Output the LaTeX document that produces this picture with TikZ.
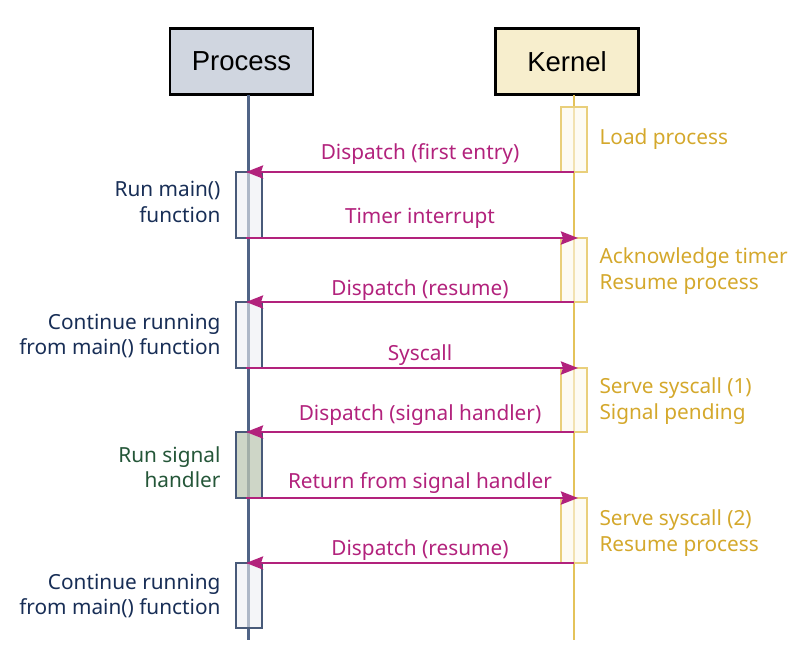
\documentclass[tikz,border=0pt]{standalone}
\usepackage{fontspec}
\setmainfont{Noto Sans}
\newfontfamily\headfont{Liberation Sans}
\usetikzlibrary{arrows.meta}
\definecolor{msg}{RGB}{178,34,124}
\definecolor{kern}{RGB}{212,168,44}
\definecolor{navy}{RGB}{24,46,86}
\definecolor{sigg}{RGB}{36,86,56}
\definecolor{pfill}{RGB}{208,214,224}
\definecolor{kfill}{RGB}{247,238,205}
\definecolor{pline}{RGB}{80,100,135}
\definecolor{kline}{RGB}{228,195,90}
\begin{document}
\begin{tikzpicture}[x=1pt,y=-1pt,
  header/.style={draw=black,line width=2.8pt,minimum width=143pt,minimum height=66pt,inner sep=0pt,font=\headfont\fontsize{27.5}{30}\selectfont},
  plife/.style={draw=pline,line width=3pt},
  klife/.style={draw=kline,line width=2.4pt},
  pact/.style={draw=pline!90!black,line width=1.4pt,fill=pfill!40,fill opacity=0.6},
  sact/.style={draw=pline!90!black,line width=1.4pt,fill={rgb,255:red,190;green,200;blue,180},fill opacity=0.75},
  kact/.style={draw=kline!80,line width=1.4pt,fill=kfill!40,fill opacity=0.6},
  msgarrow/.style={draw=msg,line width=2.5pt,-{Stealth[length=17pt,width=13pt,inset=2pt]}},
  msglabel/.style={text=msg,anchor=base,font=\fontsize{20.8}{25.5}\selectfont},
  klabel/.style={text=kern,anchor=west,align=left,font=\fontsize{20.8}{25.5}\selectfont},
  plabel/.style={text=navy,anchor=east,align=right,font=\fontsize{20.8}{25.5}\selectfont},
]
\useasboundingbox (0,0) rectangle (808,666);
% headers
\node[header,fill=pfill] (P) at (241.5,61.5) {Process};
\node[header,fill=kfill] (K) at (567,61.5) {Kernel};
% lifelines
\coordinate (Pend) at (248,640);
\coordinate (Kend) at (574,640);
\coordinate (Ptop) at (248,95);
\coordinate (Ktop) at (574,95);
\draw[plife] (Ptop) -- (Pend);
\draw[klife] (Ktop) -- (Kend);
% activation boxes (kernel)
\draw[kact] (561,107) rectangle (587,172);
\draw[kact] (561,238) rectangle (587,302);
\draw[kact] (561,368) rectangle (587,432);
\draw[kact] (561,498) rectangle (587,563);
% activation boxes (process)
\draw[pact] (236,172) rectangle (262,238);
\draw[pact] (236,302) rectangle (262,368);
\draw[sact] (236,432) rectangle (262,498);
\draw[pact] (236,563) rectangle (262,628);
% message end points
\foreach \n/\y in {1/172,2/238,3/302,4/368,5/432,6/498,7/563}{
  \coordinate (p\n) at (246,\y);
  \coordinate (k\n) at (574,\y);
  \coordinate (kt\n) at (578,\y);
}
\draw[msgarrow] (k1) -- (p1);
\draw[msgarrow] (p2) -- (kt2);
\draw[msgarrow] (k3) -- (p3);
\draw[msgarrow] (p4) -- (kt4);
\draw[msgarrow] (k5) -- (p5);
\draw[msgarrow] (p6) -- (kt6);
\draw[msgarrow] (k7) -- (p7);
% message labels
\node[msglabel] (m1) at (420,159) {Dispatch (first entry)};
\node[msglabel] (m2) at (420,223) {Timer interrupt};
\node[msglabel] (m3) at (420,295) {Dispatch (resume)};
\node[msglabel] (m4) at (420,360) {Syscall};
\node[msglabel] (m5) at (420,420) {Dispatch (signal handler)};
\node[msglabel] (m6) at (420,488) {Return from signal handler};
\node[msglabel] (m7) at (420,555) {Dispatch (resume)};
% kernel notes
\node[klabel] (n1) at (596,139) {Load process};
\node[klabel] (n2) at (596,271) {Acknowledge timer\\Resume process};
\node[klabel] (n3) at (596,401) {Serve syscall (1)\\Signal pending};
\node[klabel] (n4) at (596,533) {Serve syscall (2)\\Resume process};
% process notes
\node[plabel] (q1) at (224,202) {Run main()\\function};
\node[plabel] (q2) at (224,336) {Continue running\\from main() function};
\node[plabel,text=sigg] (q3) at (224,467) {Run signal\\handler};
\node[plabel] (q4) at (224,596) {Continue running\\from main() function};
\end{tikzpicture}
\end{document}
